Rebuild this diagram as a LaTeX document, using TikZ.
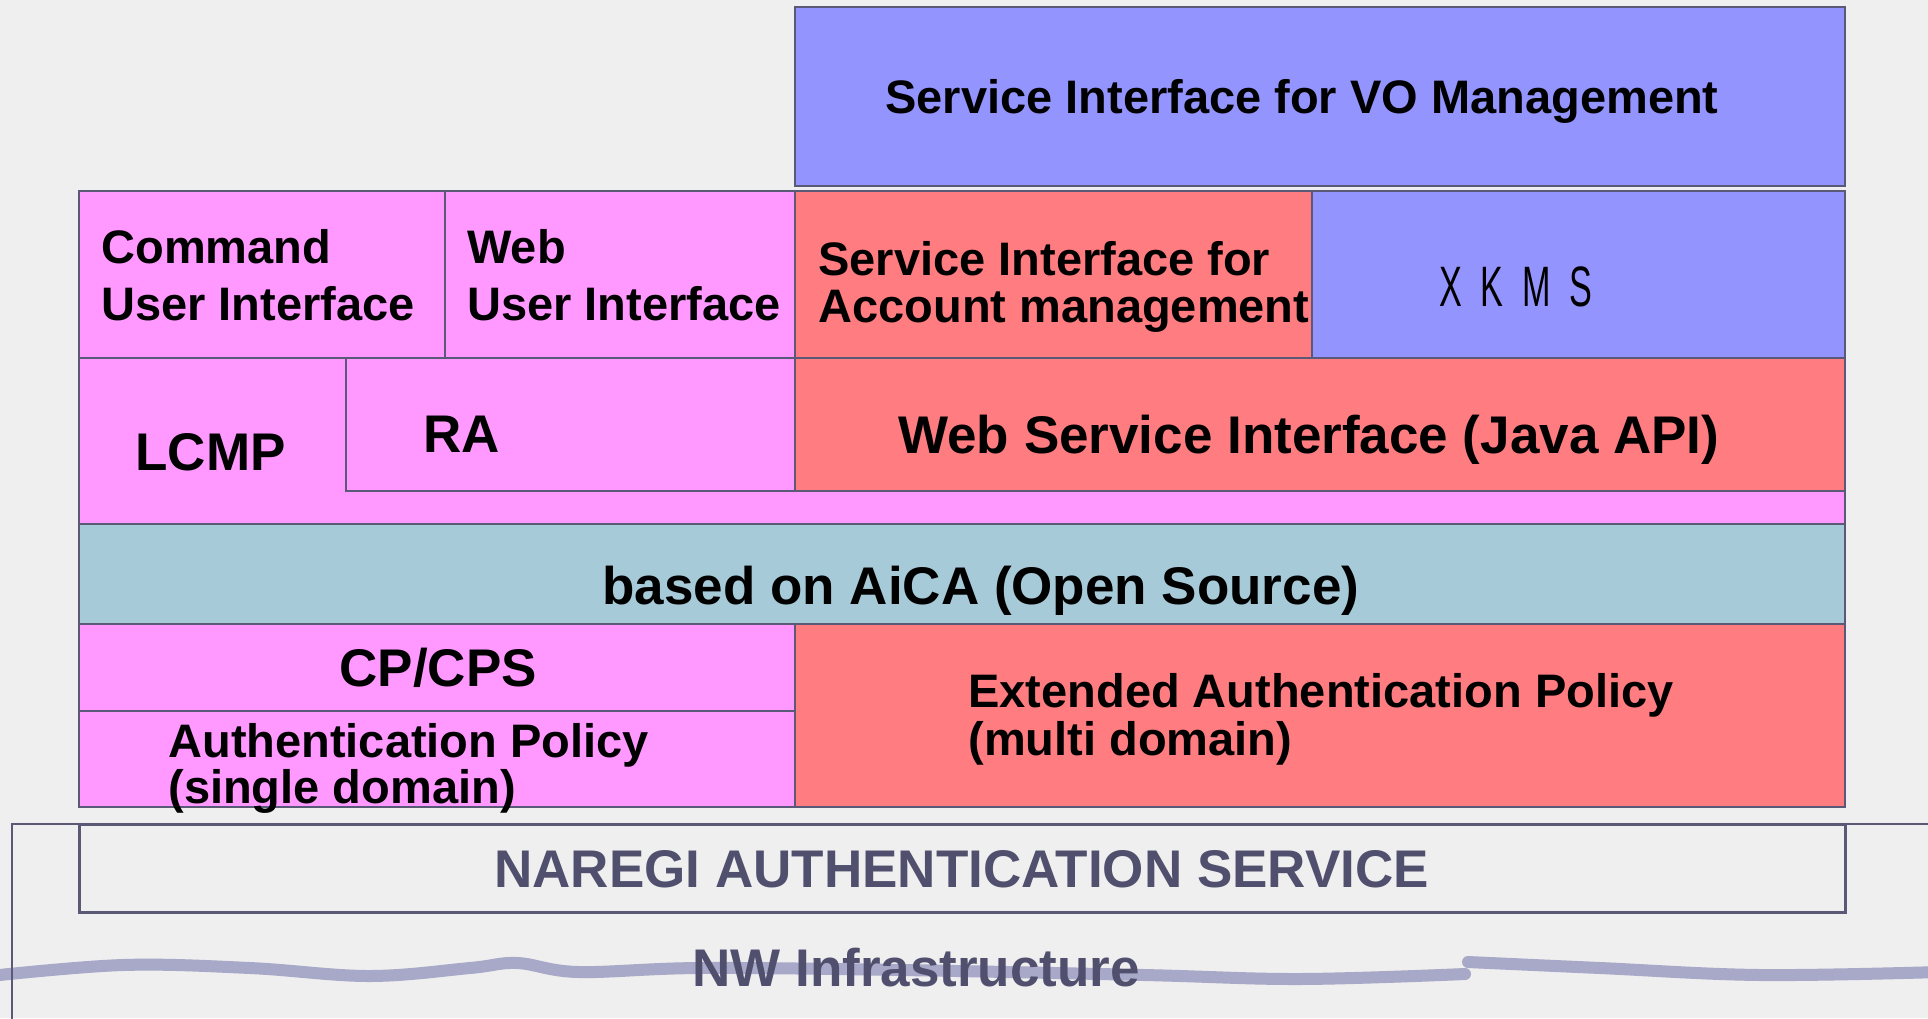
\documentclass[tikz,border=0pt]{standalone}
\usepackage{fontspec}
\setmainfont{Liberation Sans}
\newfontfamily\xkmsfont[LetterSpace=55]{Liberation Sans}
\usepackage{graphicx}
\usepackage{tikz}

\definecolor{bgc}{HTML}{EFEFEF}
\definecolor{edge}{HTML}{5A5A78}
\definecolor{pinkc}{HTML}{FF99FF}
\definecolor{violetc}{HTML}{9494FF}
\definecolor{salmonc}{HTML}{FF7C80}
\definecolor{aquac}{HTML}{A6CAD8}
\definecolor{slatec}{HTML}{50506E}
\definecolor{wavec}{HTML}{A8A8C8}

\begin{document}
\begin{tikzpicture}[x=0.5pt, y=-0.5pt,
    box/.style={draw=edge, line width=1.2pt},
    txt/.style={anchor=base west, inner sep=0pt, align=left, font=\bfseries\fontsize{23.5}{23.5}\selectfont},
    big/.style={txt, font=\bfseries\fontsize{26.5}{28}\selectfont},
    wave/.style={line width=6pt, wavec, line cap=round}]

    \useasboundingbox (0,0) rectangle (1928,1018);
    \fill[bgc] (0,0) rectangle (1928,1018);

    % network layer
    \draw[wave] plot[smooth, tension=0.6] coordinates
        {(-10,976) (123,965) (250,968) (369,976) (470,968) (517,963) (578,972) (700,968)
         (900,970) (1144,975) (1300,979) (1465,974)};
    \draw[wave] plot[smooth, tension=0.6] coordinates
        {(1468,962) (1600,968) (1760,975) (1940,972)};
    \draw[edge, line width=0.6pt] (12,1040) -- (12,824) -- (1950,824);
    \draw[box, line width=1.5pt] (79,824) rectangle (1845,912);
    \node[big, text=slatec] (naregi) at (494,887) {NAREGI AUTHENTICATION SERVICE};
    \node[big, text=slatec] (nw) at (692,986) {NW Infrastructure};

    % upper blocks
    \draw[box, fill=violetc] (795,7) rectangle (1845,186);
    \draw[box, fill=pinkc] (79,191) rectangle (445,358);
    \draw[box, fill=pinkc] (445,191) rectangle (795,358);
    \draw[box, fill=salmonc] (795,191) rectangle (1312,358);
    \draw[box, fill=violetc] (1312,191) rectangle (1845,358);
    \draw[box, fill=pinkc] (79,358) rectangle (1845,524);
    \draw[box, fill=pinkc] (346,358) rectangle (795,491);
    \draw[box, fill=salmonc] (795,358) rectangle (1845,491);
    \draw[box, fill=aquac] (79,524) rectangle (1845,624);
    \draw[box, fill=pinkc] (79,624) rectangle (795,711);
    \draw[box, fill=pinkc] (79,711) rectangle (795,807);
    \draw[box, fill=salmonc] (795,624) rectangle (1845,807);

    % labels (two-line labels sit on their last baseline)
    \node[txt] (vo) at (885,113) {Service Interface for VO Management};
    \node[txt, font=\bfseries\fontsize{23.5}{28.5}\selectfont] (cmdui) at (101,320) {Command\\User Interface};
    \node[txt, font=\bfseries\fontsize{23.5}{28.5}\selectfont] (webui) at (467,320) {Web\\User Interface};
    \node[txt] (acct) at (818,322) {Service Interface for\\Account management};
    \node[inner sep=0pt, font=\xkmsfont\fontsize{28.5}{28.5}\selectfont, xscale=0.6, transform shape] (xkms) at (1516,287) {XKMS};
    \node[big] (lcmp) at (135,470) {LCMP};
    \node[big] (ra) at (423,452) {RA};
    \node[big] (websvc) at (898,453) {Web Service Interface (Java API)};
    \node[big] (aica) at (602,604) {based on AiCA (Open Source)};
    \node[big] (cpcps) at (339,686) {CP/CPS};
    \node[txt, font=\bfseries\fontsize{23.5}{23}\selectfont] (authpol) at (168,803) {Authentication Policy\\(single domain)};
    \node[txt, font=\bfseries\fontsize{23.5}{24}\selectfont] (extpol) at (968,755) {Extended Authentication Policy\\(multi domain)};
\end{tikzpicture}
\end{document}
